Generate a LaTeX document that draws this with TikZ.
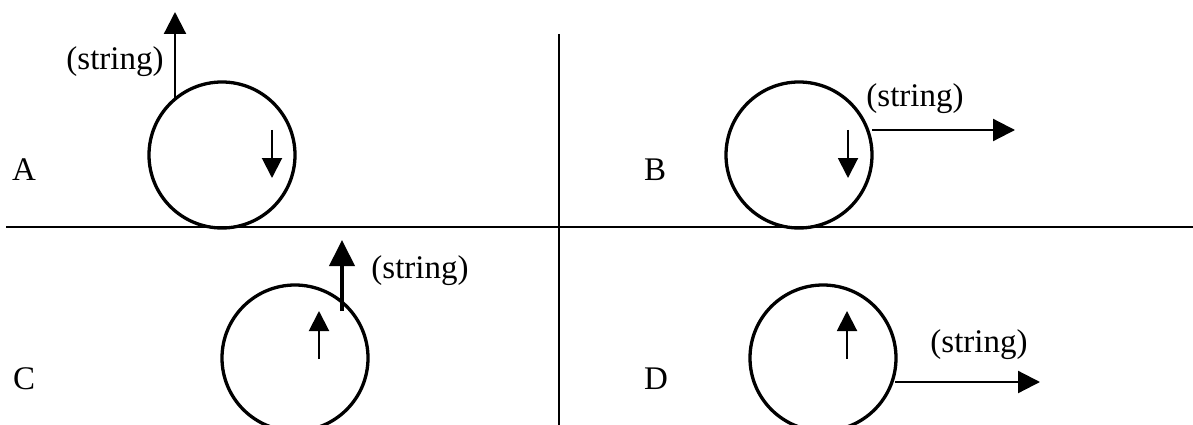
\documentclass[tikz,border=0pt]{standalone}
\usepackage{fontspec}
\setmainfont{Liberation Serif}
\usetikzlibrary{arrows.meta}
\tikzset{
  wheel/.style={circle,draw,line width=3.3pt,minimum size=146pt,inner sep=0pt},
  axis/.style={line width=2.5pt},
  label/.style={inner sep=0pt,font=\fontsize{33}{40}\selectfont},
  bigarrow/.style={line width=2.2pt,-{Triangle[length=22pt,width=22pt]}},
  smallarrow/.style={line width=2pt,-{Triangle[length=20pt,width=20pt]}},
  thickarrow/.style={line width=4pt,-{Triangle[length=26pt,width=25pt]}}
}
\begin{document}
\begin{tikzpicture}[x=1pt,y=-1pt]
\useasboundingbox (0,0) rectangle (1193,425);
\clip (0,0) rectangle (1193,425);
% dividing lines
\coordinate (hl) at (6,227);
\coordinate (hr) at (1193,227);
\coordinate (vt) at (559,34);
\coordinate (vb) at (559,425);
\draw[axis] (hl) -- (hr);
\draw[line width=2pt] (vt) -- (vb);
% wheels
\node[wheel] (wA) at (222,155) {};
\node[wheel] (wB) at (799,155) {};
\node[wheel] (wC) at (295,358) {};
\node[wheel] (wD) at (823,358) {};
% letters
\node[label,anchor=base west] (lA) at (12,180) {A};
\node[label,anchor=base west] (lB) at (644,180) {B};
\node[label,anchor=base west] (lC) at (13,389) {C};
\node[label,anchor=base west] (lD) at (644,389) {D};
% string labels
\node[label] (sA) at (115,62) {(string)};
\node[label] (sB) at (915,99) {(string)};
\node[label] (sC) at (420,271) {(string)};
\node[label] (sD) at (979,345) {(string)};
% arrow coordinates
\coordinate (a1s) at (175,98);   \coordinate (a1e) at (175,12);
\coordinate (a2s) at (272,130);  \coordinate (a2e) at (272,178);
\coordinate (b1s) at (872,130);  \coordinate (b1e) at (1015,130);
\coordinate (b2s) at (848,130);  \coordinate (b2e) at (848,178);
\coordinate (c1s) at (342,311);  \coordinate (c1e) at (342,240);
\coordinate (c2s) at (319,359);  \coordinate (c2e) at (319,311);
\coordinate (d1s) at (895,382);  \coordinate (d1e) at (1040,382);
\coordinate (d2s) at (847,359);  \coordinate (d2e) at (847,311);
% arrows
\draw[bigarrow] (a1s) -- (a1e);
\draw[smallarrow] (a2s) -- (a2e);
\draw[bigarrow] (b1s) -- (b1e);
\draw[smallarrow] (b2s) -- (b2e);
\draw[thickarrow] (c1s) -- (c1e);
\draw[smallarrow] (c2s) -- (c2e);
\draw[bigarrow] (d1s) -- (d1e);
\draw[smallarrow] (d2s) -- (d2e);
\end{tikzpicture}
\end{document}
